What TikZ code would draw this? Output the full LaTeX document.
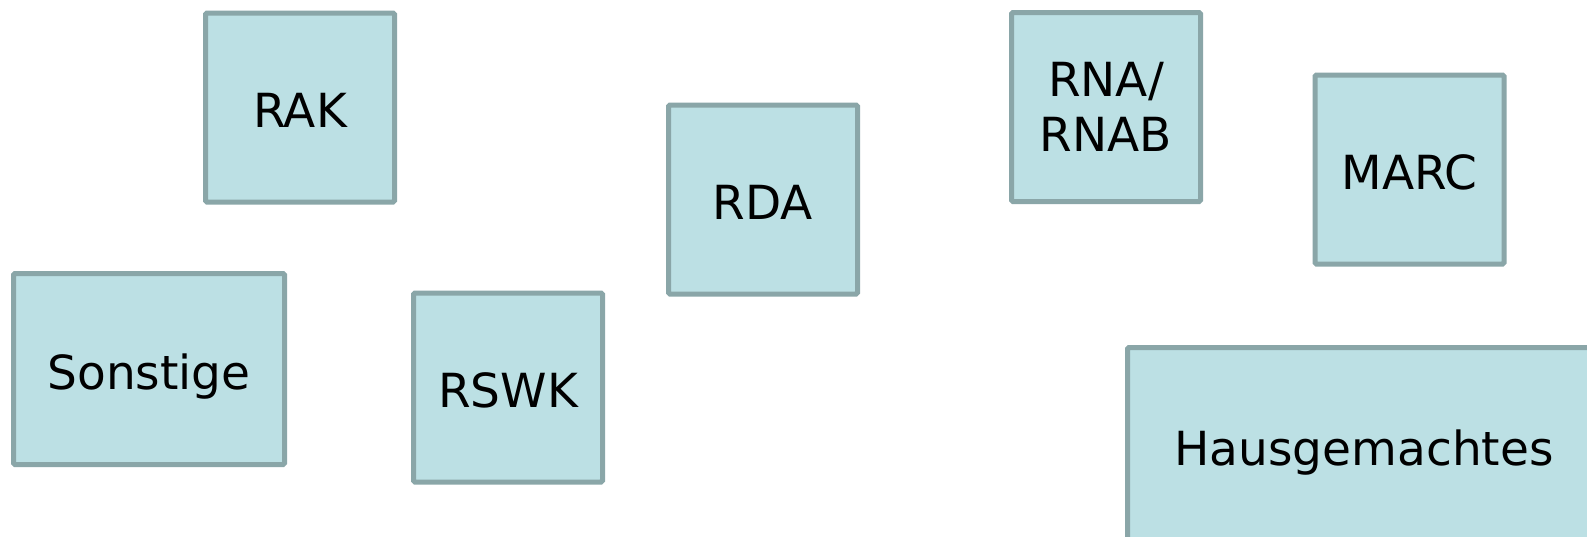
\documentclass[tikz,border=0pt]{standalone}
\usepackage{fontspec}
\setmainfont{DejaVu Sans}
\definecolor{boxfill}{RGB}{188,224,228}
\definecolor{boxline}{RGB}{138,166,168}
\begin{document}
\begin{tikzpicture}[x=1pt,y=-1pt,
  card/.style={draw=boxline, fill=boxfill, line width=5pt, rounded corners=1.5pt,
    minimum width=189pt, minimum height=189pt, inner sep=0pt,
    font=\fontsize{47}{55}\selectfont, align=center, text=black},
  oneline/.style={text height=40pt, text depth=0pt}]
\clip (0,0) rectangle (1587,536);
\fill[white] (0,0) rectangle (1587,536);
\node[card, oneline] (rak) at (300,107.5) {RAK};
\node[card, oneline, minimum width=271pt, minimum height=191pt] (sonst) at (149,369) {Sonstige};
\node[card, oneline] (rda) at (763,199.5) {RDA};
\node[card, oneline] (rswk) at (508,387.5) {RSWK};
\node[card] (rna) at (1106,107) {RNA/\\RNAB};
\node[card, oneline] (marc) at (1409.5,169.5) {MARC};
\node[card, oneline, minimum width=473pt, minimum height=196pt] (haus) at (1364,445.5) {Hausgemachtes};
\end{tikzpicture}
\end{document}
